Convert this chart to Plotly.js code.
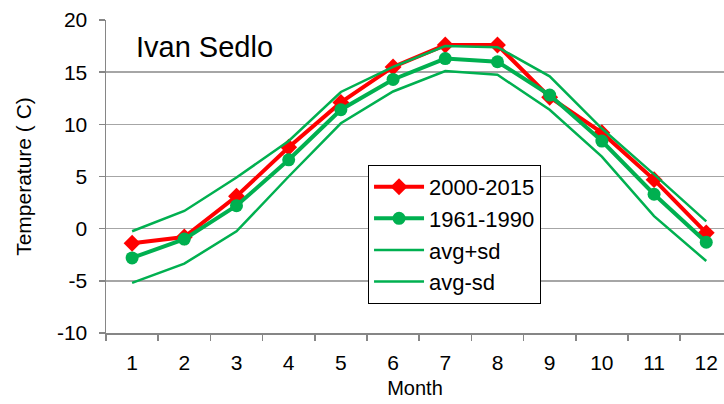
<!DOCTYPE html>
<html>
<head>
<meta charset="utf-8">
<script src="https://cdn.plot.ly/plotly-3.0.1.min.js"></script>
<style>html,body{margin:0;padding:0;background:#fff;}#chart{width:724px;height:404px;}</style>
</head>
<body>
<div id="chart"></div>
<script>
const months = ['1','2','3','4','5','6','7','8','9','10','11','12'];
const recent = [-1.4, -0.8, 3.1, 7.8, 12.1, 15.5, 17.6, 17.6, 12.6, 9.2, 4.7, -0.4];
const normal = [-2.8, -1.0, 2.2, 6.6, 11.4, 14.3, 16.3, 16.0, 12.8, 8.4, 3.3, -1.3];
const avgPlusSd = [-0.25, 1.7, 4.9, 8.4, 13.1, 15.5, 17.5, 17.4, 14.6, 9.6, 5.2, 0.7];
const avgMinusSd = [-5.2, -3.35, -0.26, 5.0, 10.1, 13.15, 15.1, 14.75, 11.4, 6.9, 1.2, -3.1];
const seriesNames = ['2000-2015', '1961-1990', 'avg+sd', 'avg-sd'];
const yTicks = [-10, -5, 0, 5, 10, 15, 20];

const red = '#FF0000', green = '#00B050';
const traces = [
  {x: months, y: recent, name: seriesNames[0], mode: 'lines+markers',
   line: {color: red, width: 4}, marker: {symbol: 'diamond', size: 13, color: red}},
  {x: months, y: normal, name: seriesNames[1], mode: 'lines+markers',
   line: {color: green, width: 4}, marker: {symbol: 'circle', size: 13, color: green}},
  {x: months, y: avgPlusSd, name: seriesNames[2], mode: 'lines',
   line: {color: green, width: 2.5}},
  {x: months, y: avgMinusSd, name: seriesNames[3], mode: 'lines',
   line: {color: green, width: 2.5}}
];

const layout = {
  width: 724, height: 404,
  margin: {l: 106, r: 0, t: 20, b: 71, pad: 0},
  paper_bgcolor: '#fff', plot_bgcolor: '#fff',
  font: {family: 'Liberation Sans, Arial, sans-serif', color: '#000', size: 20},
  showlegend: true,
  legend: {x: 0.424, xanchor: 'left', y: 0.537, yanchor: 'top',
           bordercolor: '#000', borderwidth: 1, bgcolor: '#fff',
           font: {size: 22}, tracegroupgap: 0, itemwidth: 50},
  xaxis: {type: 'category', range: [-0.5, 11.34], tickson: 'boundaries',
          ticks: 'outside', ticklen: 6, tickcolor: '#868686', tickwidth: 1.5,
          showline: true, linecolor: '#868686', linewidth: 1.5,
          showgrid: false, zeroline: false, ticklabelstandoff: 10,
          tickfont: {size: 21},
          title: {text: 'Month', font: {size: 20}, standoff: 8}},
  yaxis: {range: [-10, 20], tickvals: yTicks, ticktext: yTicks.map(String),
          ticks: 'outside', ticklen: 6, tickcolor: '#868686', tickwidth: 1.5,
          showline: true, linecolor: '#868686', linewidth: 1.5,
          showgrid: true, gridcolor: '#A6A6A6', gridwidth: 1.5, zeroline: false,
          tickfont: {size: 21}, ticklabelstandoff: 7,
          title: {text: 'Temperature ( C)', font: {size: 21}, standoff: 19}},
  annotations: [{text: 'Ivan Sedlo', xref: 'paper', yref: 'paper', x: 0.045, y: 0.914,
                 xanchor: 'left', yanchor: 'middle', showarrow: false,
                 font: {size: 29, color: '#000'}}]
};
Plotly.newPlot('chart', traces, layout, {displayModeBar: false, staticPlot: true});
</script>
</body>
</html>
